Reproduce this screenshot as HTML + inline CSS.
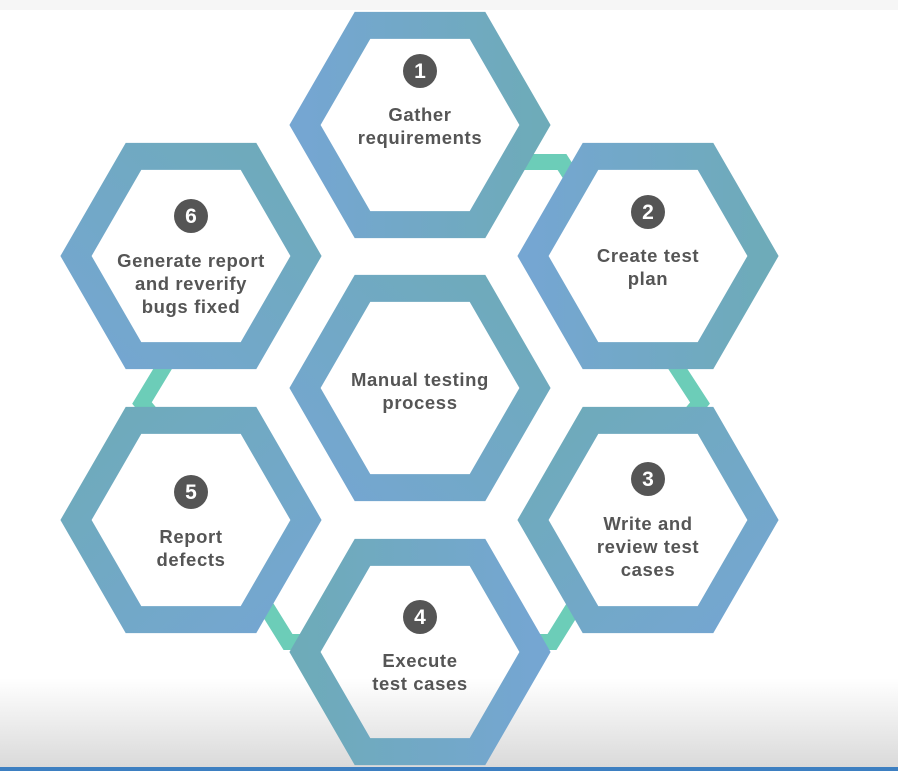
<!DOCTYPE html>
<html><head><meta charset="utf-8"><style>
html,body{margin:0;padding:0;background:#fff;}
body{width:898px;height:771px;overflow:hidden;position:relative;}
svg{position:absolute;left:0;top:0;}
text{font-family:"Liberation Sans",sans-serif;font-weight:bold;fill:#555;font-size:18.5px;letter-spacing:0.6px;text-anchor:middle;}
.n{fill:#fff;font-size:21px;letter-spacing:0;}
</style></head><body>
<svg width="898" height="771" viewBox="0 0 898 771">
<defs>
<linearGradient id="bg" x1="0" y1="0" x2="0" y2="1">
<stop offset="0" stop-color="#fff"/><stop offset="0.88" stop-color="#fff"/><stop offset="1" stop-color="#d8d8d8"/></linearGradient>
<linearGradient id="lr" x1="0" y1="0" x2="1" y2="0"><stop offset="0" stop-color="#75a6d2"/><stop offset="1" stop-color="#6eabb9"/></linearGradient>
<linearGradient id="tb" x1="0" y1="0" x2="1" y2="1"><stop offset="0" stop-color="#6eabb9"/><stop offset="1" stop-color="#75a6d2"/></linearGradient>
<linearGradient id="bt" x1="0" y1="1" x2="1" y2="0"><stop offset="0" stop-color="#75a6d2"/><stop offset="1" stop-color="#6eabb9"/></linearGradient>
<linearGradient id="h4" x1="0" y1="0" x2="1" y2="0"><stop offset="0" stop-color="#6eabb9"/><stop offset="1" stop-color="#75a6d2"/></linearGradient>
</defs>
<rect width="898" height="771" fill="url(#bg)"/>
<rect x="0" y="0" width="898" height="10" fill="#f6f6f6"/>
<rect x="0" y="767" width="898" height="4" fill="#3d7fc1"/>
<g fill="none" stroke="#6ccdb8" stroke-width="16" stroke-linejoin="miter">
<polyline points="515,162 562,162 580,190"/>
<polyline points="672,360 700,403 690,415"/>
<polyline points="575,605 552,642 530,642"/>
<polyline points="265,605 288,642 310,642"/>
<polyline points="168,360 142,403 152,415"/>
</g>
<g fill="none" stroke-width="27" stroke-linejoin="miter">
<polygon stroke="url(#lr)" points="305,125 362.5,25.4 477.5,25.4 535,125 477.5,224.6 362.5,224.6"/>
<polygon stroke="url(#lr)" points="533,256 590.5,156.4 705.5,156.4 763,256 705.5,355.6 590.5,355.6"/>
<polygon stroke="url(#tb)" points="533,520 590.5,420.4 705.5,420.4 763,520 705.5,619.6 590.5,619.6"/>
<polygon stroke="url(#h4)" points="305,652 362.5,552.4 477.5,552.4 535,652 477.5,751.6 362.5,751.6"/>
<polygon stroke="url(#tb)" points="76,520 133.5,420.4 248.5,420.4 306,520 248.5,619.6 133.5,619.6"/>
<polygon stroke="url(#bt)" points="76,256 133.5,156.4 248.5,156.4 306,256 248.5,355.6 133.5,355.6"/>
<polygon stroke="url(#bt)" points="305,388 362.5,288.4 477.5,288.4 535,388 477.5,487.6 362.5,487.6"/>
</g>
<g fill="#555">
<circle cx="420" cy="71" r="17"/><circle cx="648" cy="212" r="17"/><circle cx="648" cy="479" r="17"/>
<circle cx="420" cy="617" r="17"/><circle cx="191" cy="492" r="17"/><circle cx="191" cy="216" r="17"/>
</g>
<text class="n" x="420" y="78">1</text><text class="n" x="648" y="219">2</text><text class="n" x="648" y="486">3</text>
<text class="n" x="420" y="624">4</text><text class="n" x="191" y="499">5</text><text class="n" x="191" y="223">6</text>
<text x="420" y="121">Gather</text><text x="420" y="144">requirements</text>
<text x="648" y="262">Create test</text><text x="648" y="285">plan</text>
<text x="648" y="530">Write and</text><text x="648" y="553">review test</text><text x="648" y="576">cases</text>
<text x="420" y="667">Execute</text><text x="420" y="690">test cases</text>
<text x="191" y="543">Report</text><text x="191" y="566">defects</text>
<text x="191" y="267">Generate report</text><text x="191" y="290">and reverify</text><text x="191" y="313">bugs fixed</text>
<text x="420" y="386">Manual testing</text><text x="420" y="409">process</text>
</svg>
</body></html>
